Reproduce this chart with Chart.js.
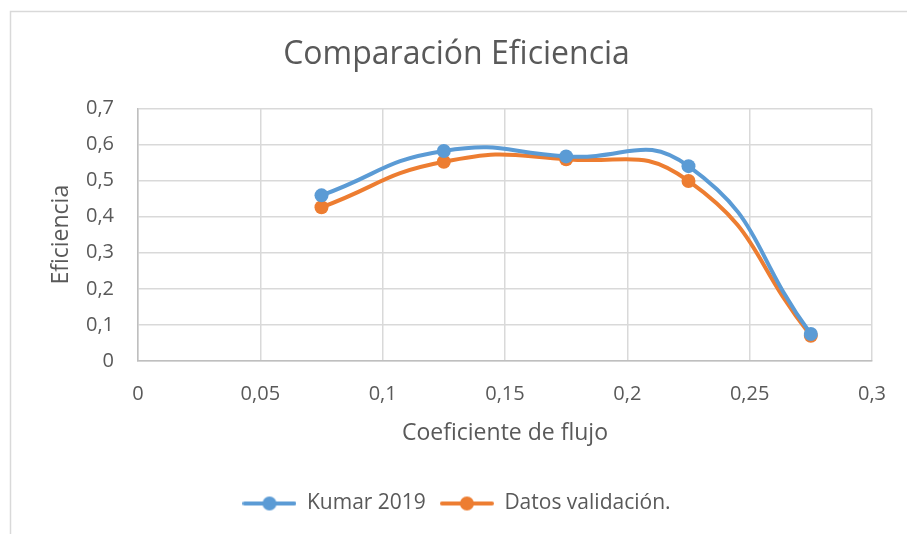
<!DOCTYPE html>
<html>
<head>
<meta charset="utf-8">
<script src="https://cdn.jsdelivr.net/npm/chart.js@4/dist/chart.umd.min.js"></script>
<style>
  html, body { margin: 0; padding: 0; background: #ffffff; }
  #wrap { position: relative; width: 907px; height: 534px; }
</style>
</head>
<body>
<div id="wrap"><canvas id="c" width="907" height="534"></canvas></div>
<script>
// Flow coefficient vs efficiency
const coeficientes = [0.075, 0.125, 0.175, 0.225, 0.275];
const kumar2019 = [0.459, 0.582, 0.567, 0.540, 0.075];
const validacion = [0.426, 0.552, 0.559, 0.499, 0.070];
const xTicks = [0, 0.05, 0.1, 0.15, 0.2, 0.25, 0.3];
const yTicks = [0, 0.1, 0.2, 0.3, 0.4, 0.5, 0.6, 0.7];

const FONT = '"Open Sans", sans-serif';
const TEXT = '#595959';
const BLUE = '#5B9BD5';
const ORANGE = '#ED7D31';

const fmt = v => String(parseFloat(v.toFixed(3))).replace('.', ',');

// legend marker: short line with a dot in the middle
function marker(color) {
  const c = document.createElement('canvas');
  c.width = 54; c.height = 16;
  const g = c.getContext('2d');
  g.strokeStyle = color; g.lineWidth = 4; g.lineCap = 'round';
  g.beginPath(); g.moveTo(2, 8); g.lineTo(52, 8); g.stroke();
  g.fillStyle = color;
  g.beginPath(); g.arc(27, 8, 7, 0, Math.PI * 2); g.fill();
  return c;
}

// light frame around the chart
const frame = {
  id: 'frame',
  beforeDraw(chart) {
    const g = chart.ctx;
    g.save();
    g.strokeStyle = '#d9d9d9';
    g.lineWidth = 1.5;
    g.beginPath();
    g.moveTo(10.5, 534);
    g.lineTo(10.5, 11.5);
    g.lineTo(907, 11.5);
    g.stroke();
    g.restore();
  }
};

const series = (label, data, color) => ({
  label,
  data: coeficientes.map((x, i) => ({ x, y: data[i] })),
  borderColor: color,
  backgroundColor: color,
  borderWidth: 4,
  pointRadius: 7,
  pointHoverRadius: 7,
  pointBorderWidth: 0,
  tension: 0.5,
  fill: false
});

new Chart(document.getElementById('c'), {
  type: 'line',
  data: {
    datasets: [
      series('Kumar 2019', kumar2019, BLUE),
      series('Datos validación.', validacion, ORANGE)
    ]
  },
  options: {
    responsive: false,
    animation: false,
    events: [],
    layout: { padding: { top: 10, right: 34, bottom: 10, left: 40 } },
    plugins: {
      title: {
        display: true,
        text: 'Comparación Eficiencia',
        color: TEXT,
        font: { family: FONT, size: 32, weight: 'normal' },
        padding: { top: 26, bottom: 34 }
      },
      legend: {
        position: 'bottom',
        labels: {
          color: TEXT,
          font: { family: FONT, size: 21 },
          usePointStyle: true,
          pointStyleWidth: 54,
          padding: 14,
          boxWidth: 54,
          boxHeight: 16,
          generateLabels(chart) {
            return chart.data.datasets.map((d, i) => ({
              text: d.label,
              fontColor: TEXT,
              pointStyle: marker(d.borderColor),
              datasetIndex: i,
              lineWidth: 0,
              strokeStyle: 'transparent',
              fillStyle: d.borderColor
            }));
          }
        }
      },
      tooltip: { enabled: false }
    },
    scales: {
      x: {
        type: 'linear',
        min: 0, max: 0.3,
        afterBuildTicks(s) { s.ticks = xTicks.map(v => ({ value: v })); },
        afterFit(s) { s.height = 118; },
        ticks: {
          color: TEXT, padding: 21,
          font: { family: FONT, size: 20 },
          callback: v => fmt(v)
        },
        grid: { color: '#d9d9d9', lineWidth: 1.5, drawTicks: false },
        border: { color: '#bfbfbf', width: 1.5 },
        title: {
          display: true, text: 'Coeficiente de flujo', color: TEXT,
          font: { family: FONT, size: 23 },
          padding: { top: 0, bottom: 32 }
        }
      },
      y: {
        type: 'linear',
        min: 0, max: 0.7,
        afterBuildTicks(s) { s.ticks = yTicks.map(v => ({ value: v })); },
        afterFit(s) { s.width = 98; },
        ticks: {
          color: TEXT, padding: 24,
          font: { family: FONT, size: 20 },
          callback: v => fmt(v)
        },
        grid: { color: '#d9d9d9', lineWidth: 1.5, drawTicks: false },
        border: { color: '#bfbfbf', width: 1.5 },
        title: {
          display: true, text: 'Eficiencia', color: TEXT,
          font: { family: FONT, size: 23 },
          padding: { top: 8, bottom: 0 }
        }
      }
    }
  },
  plugins: [frame]
});
</script>
</body>
</html>
